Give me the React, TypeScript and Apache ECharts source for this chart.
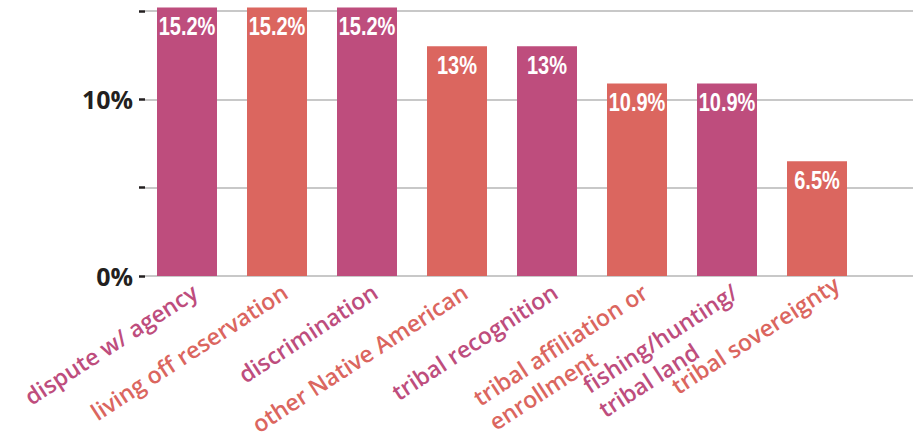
import React, { useEffect, useRef } from "react";
import * as echarts from "echarts";

const categories = [
  "dispute w/ agency",
  "living off reservation",
  "discrimination",
  "other Native American",
  "tribal recognition",
  "tribal affiliation or\nenrollment",
  "fishing/hunting/\ntribal land",
  "tribal sovereignty",
];
const values = [15.2, 15.2, 15.2, 13, 13, 10.9, 10.9, 6.5];
const barColors = ["#be4d7d", "#db665f", "#be4d7d", "#db665f", "#be4d7d", "#db665f", "#be4d7d", "#db665f"];
const yTicks = [0, 5, 10, 15];
const yLabelShown = [0, 10];

export default function App() {
  const ref = useRef<HTMLDivElement>(null);
  useEffect(() => {
    document.body.style.margin = "0";
    const chart = echarts.init(ref.current!, null, { renderer: "svg" });
    const rich: Record<string, any> = {};
    barColors.forEach((c, i) => {
      rich["c" + i] = {
        color: c,
        align: "left",
        fontFamily: "'Open Sans', sans-serif",
        fontWeight: 600,
        fontSize: 23,
        lineHeight: 29,
        padding: i === categories.length - 1 ? [0, -14, 0, 0] : 0,
      };
    });
    chart.setOption({
      animation: false,
      grid: [
        { left: 145, right: 2, top: 11, bottom: 165 },
        { left: 142, width: 720, top: 11, bottom: 165 },
      ],
      xAxis: [
        { type: "value", gridIndex: 0, show: false, min: 0, max: 1 },
        {
          type: "category",
          gridIndex: 1,
          data: categories,
          axisLine: { show: false },
          axisTick: { show: false },
          axisLabel: {
            interval: 0,
            rotate: 33,
            margin: 1,
            align: "right",
            verticalAlign: "top",
            formatter: (v: string) => {
              const i = categories.indexOf(v);
              return v
                .split("\n")
                .map((l) => `{c${i}|${l}}`)
                .join("\n");
            },
            rich,
          },
        },
      ],
      yAxis: [
        {
          type: "value",
          gridIndex: 0,
          min: yTicks[0],
          max: yTicks[yTicks.length - 1],
          interval: 5,
          axisLine: { show: false },
          axisTick: { show: true, length: 6, lineStyle: { color: "#231f20", width: 2.5 } },
          splitLine: { show: true, lineStyle: { color: "#c8c8c8", width: 2 } },
          axisLabel: {
            margin: 12,
            color: "#231f20",
            fontFamily: "'Open Sans', sans-serif",
            fontWeight: "bold",
            fontSize: 25,
            formatter: (v: number) => (yLabelShown.includes(v) ? `${v}%` : ""),
          },
        },
        {
          type: "value",
          gridIndex: 1,
          min: yTicks[0],
          max: yTicks[yTicks.length - 1],
          show: false,
          splitLine: { show: false },
        },
      ],
      series: [
        {
          type: "bar",
          xAxisIndex: 1,
          yAxisIndex: 1,
          clip: false,
          barWidth: 60,
          data: values.map((v, i) => ({ value: v, itemStyle: { color: barColors[i] } })),
        },
        {
          type: "custom",
          xAxisIndex: 1,
          yAxisIndex: 1,
          clip: false,
          z: 5,
          data: values.map((v, i) => [i, v]),
          renderItem: (params: any, api: any) => {
            const pt = api.coord([api.value(0), api.value(1)]);
            return {
              type: "text",
              x: pt[0],
              y: pt[1] + 7,
              scaleX: 0.8,
              style: {
                text: `${api.value(1)}%`,
                fill: "#ffffff",
                font: "bold 25px 'Liberation Sans', Arial, sans-serif",
                align: "center",
                verticalAlign: "top",
              },
            };
          },
        },
      ],
    });
    return () => chart.dispose();
  }, []);
  return <div ref={ref} style={{ width: 915, height: 441 }} />;
}
